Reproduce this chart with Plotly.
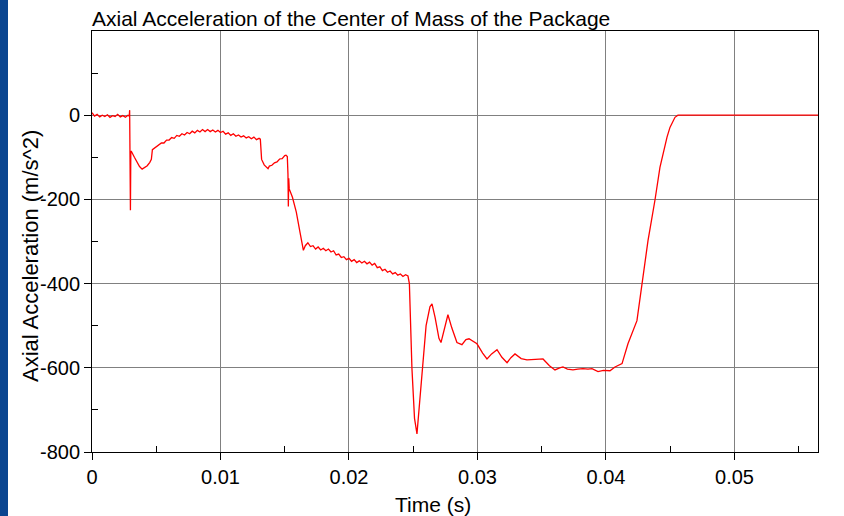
import plotly.graph_objects as go

# ---- data ----
time_s = [
    0.0000, 0.0002, 0.0004, 0.0006, 0.0008, 0.0010, 0.0012, 0.0014, 0.0016, 0.0018,
    0.0020, 0.0022, 0.0024, 0.0026, 0.0028, 0.00290, 0.00293, 0.00295, 0.00297, 0.00299,
    0.00302, 0.00305, 0.0033, 0.0035, 0.0037, 0.0039, 0.0041, 0.0043, 0.0045, 0.00462,
    0.00470,
    0.0048, 0.0050, 0.0052, 0.0054, 0.0056, 0.0058, 0.0060, 0.0062, 0.0064, 0.0066,
    0.0068, 0.0070, 0.0072, 0.0074, 0.0076, 0.0078, 0.0080, 0.0082, 0.0084, 0.0086,
    0.0088, 0.0090, 0.0092, 0.0094, 0.0096, 0.0098, 0.0100, 0.0102, 0.0104, 0.0106,
    0.0108, 0.0110, 0.0112, 0.0114, 0.0116, 0.0118, 0.0120, 0.0122, 0.0124, 0.0126,
    0.0128, 0.0130, 0.0131,
    0.01315, 0.0132, 0.0134, 0.0136, 0.0137, 0.0138, 0.0140, 0.0142, 0.0144, 0.0146,
    0.0148, 0.0150, 0.0151, 0.01520, 0.01525, 0.01528, 0.01531, 0.01535, 0.0156, 0.0159,
    0.0162, 0.01645,
    0.0166, 0.0168, 0.0170, 0.0172, 0.0174, 0.0176, 0.0178, 0.0180, 0.0182, 0.0184,
    0.0186, 0.0188, 0.0190, 0.0192, 0.0194, 0.0196, 0.0198, 0.0200, 0.0202, 0.0204,
    0.0206, 0.0208, 0.0210, 0.0212, 0.0214, 0.0216, 0.0218, 0.0220, 0.0222, 0.0224,
    0.0226, 0.0228, 0.0230, 0.0232, 0.0234, 0.0236, 0.0238, 0.0240, 0.0242, 0.0244,
    0.02459,
    0.02470, 0.02490, 0.02510, 0.02529, 0.02545, 0.02568, 0.02600, 0.02630, 0.02646, 0.02670,
    0.02700, 0.02716, 0.02740, 0.02770, 0.02800, 0.02840, 0.02879, 0.02910, 0.02934, 0.02996,
    0.03040, 0.03074, 0.03110, 0.03152, 0.03190, 0.03230, 0.03260, 0.03292, 0.03340, 0.03385,
    0.03450, 0.03510, 0.03560, 0.03603, 0.03640, 0.03665, 0.03700, 0.03743, 0.03780, 0.03821,
    0.03860, 0.03891, 0.03938, 0.03980, 0.04031, 0.04070, 0.04125, 0.04171, 0.04241, 0.04280,
    0.04327, 0.04381, 0.04420, 0.04475, 0.04498, 0.04537, 0.04560, 0.0470, 0.0500, 0.0530,
    0.0565,
]

acceleration = [
    6, -2, 2, -4, 0, -3, 1, -5, -1, -3,
    2, -4, -1, -5, 0, -2, 12, -110, -80, -226,
    -90, -85, -100, -112, -122, -128, -125, -120, -112, -105,
    -82,
    -80, -74, -72, -66, -66, -59, -59, -53, -55, -48,
    -50, -44, -47, -41, -44, -38, -42, -36, -40, -34,
    -39, -34, -39, -35, -40, -36, -41, -38, -45, -42,
    -48, -44, -50, -47, -52, -49, -54, -51, -56, -52,
    -58, -55, -57,
    -80, -105, -118, -124, -127, -121, -119, -113, -111, -104,
    -103, -96, -95, -98, -140, -217, -150, -175, -195, -230,
    -280, -321,
    -310, -303, -312, -310, -318, -313, -320, -316, -322, -318,
    -325, -322, -332, -330, -338, -336, -343, -340, -347, -343,
    -350, -346, -351, -347, -353, -349, -356, -352, -362, -360,
    -369, -366, -373, -370, -377, -374, -380, -377, -383, -379,
    -382,
    -400, -602, -720, -757, -700, -600, -500, -455, -448, -480,
    -530, -540, -510, -474, -505, -540, -545, -533, -531, -543,
    -565, -579, -567, -557, -575, -588, -576, -567, -578, -581,
    -580, -579, -595, -605, -600, -598, -603, -605, -603, -602,
    -603, -602, -609, -606, -607, -598, -590, -543, -488, -400,
    -298, -202, -124, -52, -29, -5, 0, 0, 0, 0,
    0,
]

y_tick_vals = [-800, -600, -400, -200, 0]
y_tick_text = ["-800", "-600", "-400", "-200", "0"]
y_minor_vals = [-700, -500, -300, -100, 100]
x_tick_vals = [0, 0.01, 0.02, 0.03, 0.04, 0.05]
x_tick_text = ["0", "0.01", "0.02", "0.03", "0.04", "0.05"]
x_minor_vals = [0.005, 0.015, 0.025, 0.035, 0.045, 0.055]

FONT = "Liberation Sans, Arial, sans-serif"

fig = go.Figure()
fig.add_trace(go.Scatter(
    x=time_s, y=acceleration, mode="lines",
    line=dict(color="#ff0000", width=1.3),
    showlegend=False, hoverinfo="x+y",
))

L, R, T, B = 92, 26, 31, 64
W, H = 844, 516
pw, ph = W - L - R, H - T - B

fig.update_layout(
    width=W, height=H,
    margin=dict(l=L, r=R, t=T, b=B),
    paper_bgcolor="white", plot_bgcolor="white",
    font=dict(family=FONT, size=21, color="black"),
    title=dict(
        text="Axial Acceleration of the Center of Mass of the Package",
        x=92 / W, xanchor="left", xref="container",
        y=1 - 19 / H, yanchor="middle", yref="container",
        font=dict(family=FONT, size=21, color="black"),
    ),
    xaxis=dict(
        range=[0, 0.0565], tickvals=x_tick_vals, ticktext=x_tick_text,
        ticks="outside", ticklen=7, tickcolor="black", tickwidth=1,
        showgrid=True, gridcolor="#808080", gridwidth=1,
        showline=True, linecolor="black", linewidth=1, mirror=True,
        zeroline=False, tickfont=dict(size=20),
        minor=dict(tickvals=x_minor_vals, ticks="inside", ticklen=6,
                   tickcolor="black", showgrid=False),
    ),
    yaxis=dict(
        range=[-800, 200], tickvals=y_tick_vals, ticktext=y_tick_text,
        ticks="outside", ticklen=7, tickcolor="black", tickwidth=1,
        showgrid=True, gridcolor="#808080", gridwidth=1,
        showline=True, linecolor="black", linewidth=1, mirror=True,
        zeroline=False, tickfont=dict(size=20),
        minor=dict(tickvals=y_minor_vals, ticks="inside", ticklen=6,
                   tickcolor="black", showgrid=False),
    ),
    annotations=[
        dict(text="Time (s)", xref="paper", yref="paper",
             x=(433 - L) / pw, y=-(504 - (T + ph)) / ph,
             xanchor="center", yanchor="middle", showarrow=False,
             font=dict(family=FONT, size=21)),
        dict(text="Axial Acceleration (m/s^2)", xref="paper", yref="paper",
             x=(30 - L) / pw, y=(T + ph - 256) / ph, textangle=-90,
             xanchor="center", yanchor="middle", showarrow=False,
             font=dict(family=FONT, size=22)),
    ],
    shapes=[
        dict(type="rect", xref="paper", yref="paper",
             x0=(0 - L) / pw, x1=(8 - L) / pw,
             y0=-(H - T - ph) / ph, y1=(T + ph) / ph,
             fillcolor="#0a4590", line=dict(width=0), layer="below"),
    ],
)

fig.write_html("out.html", config={"displayModeBar": False},
               post_script="document.body.style.margin='0';")
